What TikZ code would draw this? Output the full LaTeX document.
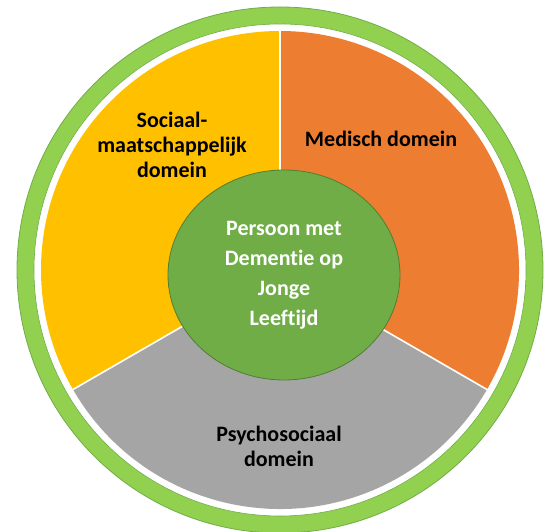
\documentclass[tikz,border=0pt]{standalone}
\usepackage{fontspec}
\setmainfont{Carlito}[Ligatures=NoCommon]
\usetikzlibrary{positioning,shapes.geometric}

\definecolor{ringgreen}{HTML}{92D050}
\definecolor{ringedge}{HTML}{70AD47}
\definecolor{socialyellow}{HTML}{FFC000}
\definecolor{medorange}{HTML}{ED7D31}
\definecolor{psychgray}{HTML}{A5A5A5}
\definecolor{coregreen}{HTML}{70AD47}
\definecolor{coreedge}{HTML}{507E32}

\begin{document}
\begin{tikzpicture}[x=1pt, y=1pt]
    \tikzset{
      divider/.style = {draw=white, line width=1.6pt},
      domainlabel/.style = {align=center, text=black, font=\bfseries\fontsize{22}{25}\selectfont},
      core/.style = {ellipse, minimum width=232pt, minimum height=210pt, inner sep=0pt, align=center, draw=coreedge, line width=0.8pt, fill=coregreen, text=white, font=\bfseries\fontsize{22}{30}\selectfont}
    }
    \useasboundingbox (0,0) rectangle (547,532);

    \coordinate (mid) at (280,262);

    % outer ring
    \fill [ringgreen, draw=ringedge, line width=0.8pt] (mid) circle (263);
    \fill [white, draw=ringedge, line width=0.6pt] (mid) circle (246);

    % three domains
    \fill [socialyellow] (mid) -- ++(90:239) arc [start angle=90, end angle=210, radius=239] -- cycle;
    \fill [psychgray] (mid) -- ++(210:239) arc [start angle=210, end angle=330, radius=239] -- cycle;
    \fill [medorange] (mid) -- ++(330:239) arc [start angle=-30, end angle=90, radius=239] -- cycle;
    \draw [divider] (mid) -- ++(90:239);
    \draw [divider] (mid) -- ++(210:239);
    \draw [divider] (mid) -- ++(330:239);

    \node (person) [core] at (284,257) {Persoon met\\Dementie op\\Jonge\\Leeftijd};

    \node (social) [domainlabel] at (172,387) {Sociaal-\\maatschappelijk\\domein};
    \node (medical) [domainlabel] at (381,393) {Medisch domein};
    \node (psycho) [domainlabel] at (279,86) {Psychosociaal\\domein};
\end{tikzpicture}
\end{document}
